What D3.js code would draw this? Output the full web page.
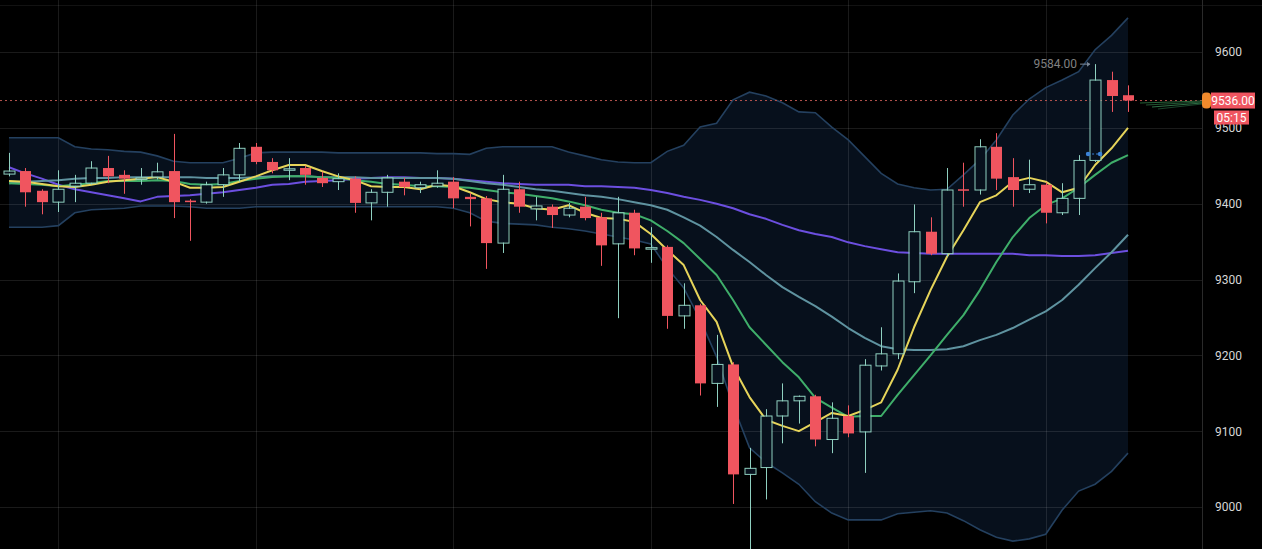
<!DOCTYPE html>
<html><head><meta charset="utf-8">
<script src="https://cdn.jsdelivr.net/npm/d3@7"></script>
<style>
html,body{margin:0;padding:0;background:#000;}
svg{display:block;}
</style></head>
<body>
<svg id="chart" width="1262" height="549"></svg>
<script>
// ---------- DATA ----------
const categories = d3.range(1, 70);
const open  = [9439,9443,9417,9402,9423,9427,9447,9438,9432,9435,9443,9404,9402,9425,9438,9475,9455,9445,9447,9434,9429,9433,9401,9415,9429,9421,9423,9429,9409,9407,9348,9419,9393,9396,9385,9396,9382,9347,9388,9340,9343,9252,9266,9163,9188,9043,9052,9120,9140,9146,9089,9120,9099,9186,9202,9297,9363,9334,9419,9418,9475,9435,9419,9425,9388,9407,9457,9563,9543];
const high  = [9467,9447,9419,9444,9438,9456,9463,9444,9447,9454,9492,9406,9429,9447,9480,9480,9460,9460,9450,9442,9440,9436,9419,9438,9434,9429,9444,9435,9414,9410,9438,9429,9409,9399,9401,9409,9388,9409,9392,9369,9345,9295,9268,9227,9191,9078,9129,9163,9147,9148,9138,9134,9195,9237,9308,9399,9382,9447,9454,9485,9493,9460,9458,9428,9427,9464,9584,9574,9556];
const low   = [9436,9396,9386,9389,9402,9425,9427,9413,9425,9432,9381,9351,9400,9409,9429,9452,9440,9431,9425,9422,9418,9388,9378,9396,9411,9414,9421,9394,9370,9314,9335,9388,9378,9368,9382,9378,9318,9249,9332,9322,9235,9235,9147,9132,9004,8940,9010,9084,9110,9080,9071,9092,9045,9180,9195,9282,9332,9330,9396,9412,9418,9396,9414,9374,9385,9385,9455,9521,9521];
const close = [9443,9415,9402,9419,9427,9447,9436,9433,9434,9442,9402,9402,9425,9438,9473,9455,9444,9446,9438,9427,9433,9401,9415,9434,9422,9425,9427,9407,9406,9348,9419,9396,9397,9385,9394,9381,9345,9388,9341,9342,9252,9266,9163,9188,9043,9051,9120,9140,9146,9089,9117,9097,9187,9202,9298,9363,9334,9418,9417,9475,9433,9418,9425,9388,9407,9457,9563,9542,9536];

const maYellow = [9430,9429,9426,9423,9422,9425,9429,9431,9433,9435,9429,9421,9421,9422,9429,9436,9444,9451,9451,9443,9436,9431,9423,9422,9422,9419,9425,9423,9415,9406,9402,9400,9394,9392,9398,9388,9381,9380,9376,9360,9339,9319,9273,9244,9185,9145,9115,9107,9100,9112,9124,9120,9128,9138,9181,9237,9286,9330,9365,9402,9411,9429,9434,9429,9415,9421,9451,9473,9500];
const maGreen  = [9427,9426,9425,9423,9425,9427,9430,9430,9430,9431,9430,9426,9425,9426,9430,9433,9435,9436,9436,9435,9434,9431,9429,9426,9425,9423,9423,9422,9421,9418,9415,9413,9410,9407,9403,9398,9392,9388,9386,9378,9364,9348,9327,9306,9273,9237,9214,9191,9171,9144,9131,9119,9120,9120,9148,9174,9200,9227,9253,9286,9323,9356,9381,9398,9407,9421,9438,9454,9464];
const maTeal   = [9427,9429,9430,9431,9433,9434,9434,9435,9435,9435,9435,9435,9434,9434,9434,9435,9436,9436,9436,9435,9435,9435,9434,9434,9434,9434,9434,9433,9430,9427,9425,9422,9419,9417,9414,9411,9409,9406,9402,9398,9392,9382,9371,9356,9339,9323,9306,9290,9277,9265,9251,9236,9223,9212,9208,9207,9207,9208,9212,9220,9227,9236,9247,9258,9273,9293,9315,9336,9359];
const maPurple = [9448,9440,9433,9425,9419,9415,9411,9407,9403,9409,9410,9411,9413,9415,9418,9421,9425,9426,9429,9430,9431,9433,9434,9435,9435,9434,9434,9433,9431,9429,9427,9426,9425,9425,9425,9423,9423,9422,9421,9418,9414,9409,9405,9400,9394,9386,9380,9372,9365,9360,9356,9349,9344,9340,9336,9335,9334,9334,9334,9334,9334,9334,9332,9332,9331,9331,9332,9335,9338];
const bandUpper = [9487,9487,9487,9487,9475,9472,9471,9469,9468,9463,9456,9454,9454,9454,9460,9467,9468,9468,9468,9468,9467,9467,9467,9467,9467,9467,9466,9466,9465,9473,9475,9475,9475,9475,9468,9463,9458,9455,9454,9454,9469,9477,9501,9506,9537,9547,9542,9533,9521,9520,9501,9484,9462,9440,9426,9421,9418,9419,9438,9458,9484,9517,9538,9553,9563,9574,9603,9622,9645];
const bandLower = [9369,9369,9369,9371,9388,9392,9393,9394,9397,9397,9397,9396,9394,9394,9394,9396,9396,9396,9396,9396,9396,9396,9396,9396,9396,9396,9396,9394,9388,9377,9374,9373,9372,9369,9367,9364,9360,9356,9352,9347,9315,9289,9247,9198,9134,9078,9059,9045,9030,9007,8992,8983,8983,8983,8991,8993,8995,8992,8982,8970,8960,8955,8958,8964,8996,9021,9030,9047,9071];

const priceTicks = [9000, 9100, 9200, 9300, 9400, 9500, 9600];
const gridCandles = [4, 16, 28, 40, 52, 64];
const lastPrice = 9536;
const lastPriceLabel = "9536.00";
const countdownLabel = "05:15";
const highMarkValue = 9584;
const highMarkLabel = "9584.00";
const highMarkCandle = 67;

// ---------- LAYOUT ----------
const W = 1262, H = 549;
const axisX = 1202;
const bandFill = "#07101c";
const svg = d3.select("#chart");
svg.append("rect").attr("width", W).attr("height", H).attr("fill", "#000");

const x = d3.scalePoint().domain(categories).range([9, 1128]);
const y = d3.scaleLinear().domain([9000, 9600]).range([507, 52]);
const candleW = 11;

const plot = svg.append("g");
svg.append("clipPath").attr("id", "plotclip")
  .append("rect").attr("x", 0).attr("y", 0).attr("width", axisX).attr("height", H);
plot.attr("clip-path", "url(#plotclip)");

// Bollinger fill
const area = d3.area().x((d, i) => x(categories[i])).y0((d, i) => y(bandLower[i])).y1(d => y(d));
plot.append("path").datum(bandUpper).attr("d", area).attr("fill", bandFill);

// grid
const grid = plot.append("g");
grid.selectAll("line.h").data(priceTicks).join("line")
  .attr("x1", 0).attr("x2", axisX).attr("y1", d => Math.round(y(d)) + 0.5).attr("y2", d => Math.round(y(d)) + 0.5)
  .attr("stroke", "#ffffff").attr("stroke-opacity", 0.1).attr("stroke-width", 1);
grid.selectAll("line.v").data(gridCandles).join("line")
  .attr("x1", d => Math.round(x(d)) + 0.5).attr("x2", d => Math.round(x(d)) + 0.5).attr("y1", 0).attr("y2", H)
  .attr("stroke", "#ffffff").attr("stroke-opacity", 0.1).attr("stroke-width", 1);
svg.append("line").attr("x1", 0).attr("x2", W).attr("y1", 5.5).attr("y2", 5.5)
  .attr("stroke", "#ffffff").attr("stroke-opacity", 0.07);

// band lines
const ln = arr => d3.line().x((d, i) => x(categories[i])).y(d => y(d))(arr);
plot.append("path").attr("d", ln(bandUpper)).attr("fill", "none").attr("stroke", "#24405f").attr("stroke-width", 1.6);
plot.append("path").attr("d", ln(bandLower)).attr("fill", "none").attr("stroke", "#24405f").attr("stroke-width", 1.6);

// current price dotted line
plot.append("line").attr("x1", 0).attr("x2", axisX).attr("y1", y(lastPrice)).attr("y2", y(lastPrice))
  .attr("stroke", "#b4544f").attr("stroke-width", 1).attr("stroke-dasharray", "2,3");

// MA lines
const maDefs = [
  {d: maPurple, c: "#6c4fe0"},
  {d: maTeal, c: "#5f93a0"},
  {d: maGreen, c: "#3fae6a"},
  {d: maYellow, c: "#e6d45a"}
];
maDefs.forEach(m => {
  plot.append("path").attr("d", ln(m.d)).attr("fill", "none").attr("stroke", m.c).attr("stroke-width", 2).attr("stroke-linejoin", "round");
});

// candles
const upC = "#8fd0c0", dnC = "#f0555f";
const cg = plot.append("g");
categories.forEach((c, i) => {
  const up = close[i] >= open[i];
  const col = up ? upC : dnC;
  const cx = Math.round(x(c)) + 0.5;
  cg.append("line").attr("x1", cx).attr("x2", cx).attr("y1", y(high[i])).attr("y2", y(low[i]))
    .attr("stroke", col).attr("stroke-width", 1);
  const top = y(Math.max(open[i], close[i]));
  const bot = y(Math.min(open[i], close[i]));
  const hgt = Math.max(bot - top, 1.5);
  if (up) {
    cg.append("rect").attr("x", cx - candleW / 2 + 0.5).attr("y", top + 0.5).attr("width", candleW - 1).attr("height", Math.max(hgt - 1, 0))
      .attr("fill", bandFill);
    cg.append("rect").attr("x", cx - candleW / 2).attr("y", top).attr("width", candleW).attr("height", hgt)
      .attr("fill", "none").attr("stroke", col).attr("stroke-width", 1);
  } else {
    cg.append("rect").attr("x", cx - candleW / 2).attr("y", top).attr("width", candleW).attr("height", hgt)
      .attr("fill", col);
  }
});

// low markers near last rally candle
const mk = plot.append("g");
mk.append("line").attr("x1", x(67) - 7).attr("x2", x(67) + 5).attr("y1", 154).attr("y2", 154)
  .attr("stroke", "#3b82d6").attr("stroke-width", 1).attr("stroke-dasharray", "2,2");
[x(67) - 7, x(67) + 5].forEach(px => mk.append("circle").attr("cx", px).attr("cy", 154).attr("r", 2.3).attr("fill", "#3b82d6"));

// high marker
const hx = x(highMarkCandle) - 5, hy = y(highMarkValue);
svg.append("text").attr("x", hx - 13).attr("y", hy).attr("dy", "0.35em").attr("text-anchor", "end")
  .attr("font-family", "Roboto, 'DejaVu Sans', sans-serif").attr("font-size", 12).attr("fill", "#808080").text(highMarkLabel);
svg.append("line").attr("x1", hx - 10).attr("x2", hx).attr("y1", hy).attr("y2", hy).attr("stroke", "#7d8a99").attr("stroke-width", 1);
svg.append("path").attr("d", `M${hx},${hy} l-3,-2.5 l0,5 z`).attr("fill", "#7d8a99");

// faint converging indicator lines near axis
const gl = svg.append("g");
[[103, "#2f7a45"], [105, "#2a6a3e"], [107, "#3a8a55"], [109, "#1f5535"]].forEach(([yy, c], k) => {
  gl.append("line").attr("x1", 1140 + k * 6).attr("x2", axisX).attr("y1", yy).attr("y2", 101 + k)
    .attr("stroke", c).attr("stroke-width", 1).attr("stroke-opacity", 0.8);
});

// axis separator
svg.append("line").attr("x1", axisX + 0.5).attr("x2", axisX + 0.5).attr("y1", 0).attr("y2", H)
  .attr("stroke", "#2a2a2a").attr("stroke-width", 1);

// right axis
const axis = d3.axisRight(y).tickValues(priceTicks).tickSize(0).tickPadding(13).tickFormat(d3.format("d"));
const ag = svg.append("g").attr("transform", `translate(${axisX},0)`).call(axis);
ag.select(".domain").remove();
ag.selectAll("text").attr("fill", "#d6d6d6").attr("font-size", 12)
  .attr("font-family", "Roboto, 'DejaVu Sans', sans-serif");

// current price label
const py = y(lastPrice);
svg.append("rect").attr("x", 1202).attr("y", py - 8).attr("width", 9).attr("height", 16).attr("rx", 4)
  .attr("fill", "#f08a2c");
svg.append("rect").attr("x", 1211).attr("y", py - 8).attr("width", 44).attr("height", 16).attr("fill", "#ef5560");
svg.append("text").attr("x", 1233).attr("y", py).attr("dy", "0.36em").attr("text-anchor", "middle")
  .attr("font-family", "Roboto, 'DejaVu Sans', sans-serif").attr("font-size", 12).attr("fill", "#fff").text(lastPriceLabel);
svg.append("rect").attr("x", 1214).attr("y", py + 10).attr("width", 35).attr("height", 14).attr("fill", "#ef5560");
svg.append("text").attr("x", 1231.5).attr("y", py + 17).attr("dy", "0.36em").attr("text-anchor", "middle")
  .attr("font-family", "Roboto, 'DejaVu Sans', sans-serif").attr("font-size", 12).attr("fill", "#fff").text(countdownLabel);
</script>
</body></html>
